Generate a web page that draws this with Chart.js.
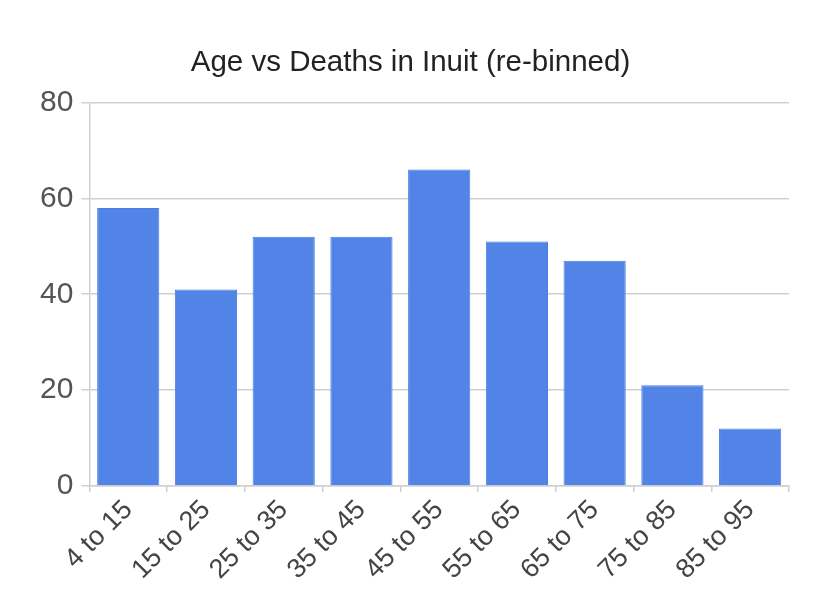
<!DOCTYPE html>
<html>
<head>
<meta charset="utf-8">
<script src="https://cdn.jsdelivr.net/npm/chart.js@4"></script>
<style>
  html, body { margin: 0; padding: 0; background: #fff; }
  #wrap { position: absolute; left: 0; top: 0; width: 813px; height: 602px; }
</style>
</head>
<body>
<div id="wrap"><canvas id="ageChart"></canvas></div>
<script>
const ageBins = ["4 to 15", "15 to 25", "25 to 35", "35 to 45", "45 to 55", "55 to 65", "65 to 75", "75 to 85", "85 to 95"];
const deaths = [58, 41, 52, 52, 66, 51, 47, 21, 12];
const yTicks = [0, 20, 40, 60, 80];

const gridGrey = "#d0d0d0";

new Chart(document.getElementById("ageChart"), {
  type: "bar",
  data: {
    labels: ageBins,
    datasets: [{
      label: "Deaths",
      data: deaths,
      backgroundColor: "#5283e6",
      borderColor: "#4a7fe6",
      borderWidth: 1,
      barPercentage: 0.8,
      categoryPercentage: 1.0
    }]
  },
  options: {
    responsive: true,
    maintainAspectRatio: false,
    animation: false,
    layout: { padding: { left: 32, right: 24, top: 0, bottom: 14 } },
    plugins: {
      legend: { display: false },
      tooltip: { enabled: false },
      title: {
        display: true,
        text: "Age vs Deaths in Inuit (re-binned)",
        color: "#222",
        font: { family: "Liberation Sans, Arial, sans-serif", size: 29.5, weight: "normal" },
        padding: { top: 45, bottom: 22 }
      }
    },
    scales: {
      x: {
        offset: true,
        grid: {
          offset: true,
          drawOnChartArea: true,
          color: ctx => ctx.index === ageBins.length ? gridGrey : "rgba(0,0,0,0)",
          tickColor: gridGrey,
          tickLength: 6,
          lineWidth: 1.5
        },
        border: { color: gridGrey, width: 1.5 },
        ticks: {
          color: "#444",
          font: { family: "Liberation Sans, Arial, sans-serif", size: 27 },
          minRotation: 45,
          maxRotation: 45,
          padding: 2
        }
      },
      y: {
        min: 0,
        max: 80,
        afterBuildTicks: axis => { axis.ticks = yTicks.map(v => ({ value: v })); },
        grid: {
          color: gridGrey,
          tickColor: gridGrey,
          tickLength: 8,
          lineWidth: 1.5
        },
        border: { color: gridGrey, width: 1.5 },
        ticks: {
          color: "#555",
          font: { family: "Liberation Sans, Arial, sans-serif", size: 30 },
          padding: 8
        }
      }
    }
  }
});
</script>
</body>
</html>
